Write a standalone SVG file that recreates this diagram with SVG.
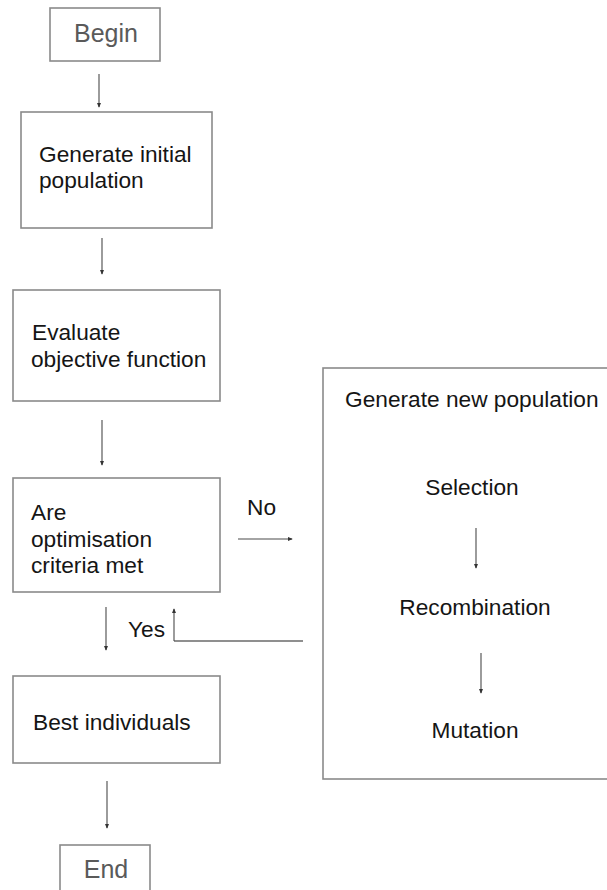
<svg xmlns="http://www.w3.org/2000/svg" width="607" height="890" viewBox="0 0 607 890">
  <style>
    .box { fill: #ffffff; stroke: #8a8a8a; stroke-width: 1.6; }
    .lbl { font-family: "Liberation Sans", Arial, sans-serif; font-size: 22.7px; fill: #151515; }
    .term { font-family: "Liberation Sans", Arial, sans-serif; font-size: 25px; fill: #5a5a5a; }
    .mid { text-anchor: middle; }
    .conn { fill: none; stroke: #4a4a4a; stroke-width: 1.1; marker-end: url(#tip); }
    .plain { fill: none; stroke: #6a6a6a; stroke-width: 1.4; }
  </style>
  <defs>
    <marker id="tip" viewBox="0 0 6 6" refX="5" refY="3" markerWidth="5" markerHeight="5" markerUnits="userSpaceOnUse" orient="auto">
      <path d="M0,0.5 L6,3 L0,5.5 Z" fill="#333"/>
    </marker>
  </defs>
  <rect width="607" height="890" fill="#ffffff"/>

  <g id="begin">
    <rect class="box" x="50" y="8" width="110" height="53"/>
    <text class="term mid" x="106" y="42">Begin</text>
  </g>

  <g id="init">
    <rect class="box" x="21" y="112" width="191" height="116"/>
    <text class="lbl" x="39" y="162">Generate initial</text>
    <text class="lbl" x="39" y="188">population</text>
  </g>

  <g id="evaluate">
    <rect class="box" x="13" y="290" width="207" height="111"/>
    <text class="lbl" x="32" y="340">Evaluate</text>
    <text class="lbl" x="31" y="367">objective function</text>
  </g>

  <g id="criteria">
    <rect class="box" x="13" y="478" width="207" height="114"/>
    <text class="lbl" x="31" y="520">Are</text>
    <text class="lbl" x="31" y="547">optimisation</text>
    <text class="lbl" x="31" y="573">criteria met</text>
  </g>

  <g id="best">
    <rect class="box" x="13" y="676" width="207" height="87"/>
    <text class="lbl" x="33" y="730">Best individuals</text>
  </g>

  <g id="end">
    <rect class="box" x="60" y="845" width="90" height="50"/>
    <text class="term mid" x="106" y="878">End</text>
  </g>

  <g id="newpop">
    <rect class="box" x="323" y="368" width="300" height="411"/>
    <text class="lbl" x="345" y="407">Generate new population</text>
    <text class="lbl mid" x="472" y="495">Selection</text>
    <text class="lbl mid" x="475" y="615">Recombination</text>
    <text class="lbl mid" x="475" y="738">Mutation</text>
  </g>

  <g id="connectors">
    <line class="conn" x1="99" y1="74" x2="99" y2="107"/>
    <line class="conn" x1="102" y1="238" x2="102" y2="274"/>
    <line class="conn" x1="102" y1="420" x2="102" y2="465"/>
    <line class="conn" x1="238" y1="539" x2="292" y2="539"/>
    <line class="conn" x1="106" y1="607" x2="106" y2="650"/>
    <line class="conn" x1="107" y1="781" x2="107" y2="828"/>
    <line class="plain" x1="303" y1="641" x2="174" y2="641"/>
    <line class="conn" x1="174" y1="641" x2="174" y2="609"/>
    <line class="conn" x1="476" y1="528" x2="476" y2="568"/>
    <line class="conn" x1="481" y1="653" x2="481" y2="693"/>
    <text class="lbl" x="247" y="515">No</text>
    <text class="lbl" x="128" y="637">Yes</text>
  </g>
</svg>
